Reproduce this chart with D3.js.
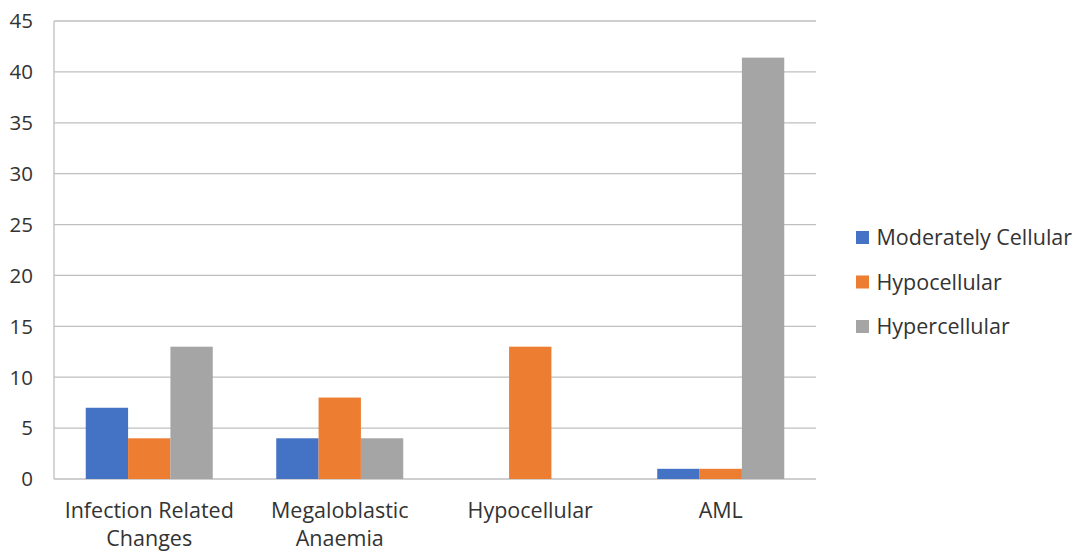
<!DOCTYPE html>
<html><head><meta charset="utf-8">
<script src="https://cdn.jsdelivr.net/npm/d3@7"></script>
<style>body{margin:0;background:#fff;} text{font-family:"Open Sans",sans-serif;}</style>
</head><body>
<svg id="c" width="1080" height="554"></svg>
<script>
const categories = [["Infection Related","Changes"],["Megaloblastic","Anaemia"],["Hypocellular"],["AML"]];
const categoryKeys = ["Infection Related Changes","Megaloblastic Anaemia","Hypocellular","AML"];
const seriesNames = ["Moderately Cellular","Hypocellular","Hypercellular"];
const moderatelyCellular = [7,4,0,1];
const hypocellular = [4,8,13,1];
const hypercellular = [13,4,0,41.4];
const yTicks = [0,5,10,15,20,25,30,35,40,45];
const colors = ["#4472C4","#ED7D31","#A5A5A5"];
const seriesValues = [moderatelyCellular, hypocellular, hypercellular];

(function(){
const svg = d3.select("#c");
const L = 54, R = 816, T = 21, B = 479;
const x = d3.scaleBand().domain(categoryKeys).range([L,R]).paddingInner(0).paddingOuter(0);
const y = d3.scaleLinear().domain([0,45]).range([B,T]);
const barW = x.bandwidth()/4.5;
const xs = d3.scaleBand().domain(seriesNames).range([0,barW*3]);

svg.append("g").selectAll("line").data(yTicks).join("line")
  .attr("x1",L).attr("x2",R).attr("y1",d=>y(d)).attr("y2",d=>y(d))
  .attr("stroke","#BFBFBF").attr("stroke-width",1.3);
svg.append("line").attr("x1",L).attr("x2",L).attr("y1",T).attr("y2",B)
  .attr("stroke","#BFBFBF").attr("stroke-width",1.3);

svg.append("g").selectAll("text").data(yTicks).join("text")
  .attr("x",33).attr("y",d=>y(d)).attr("dy","0.36em").attr("text-anchor","end")
  .attr("font-size",20.5).attr("fill","#333").text(d=>d);

seriesValues.forEach((vals,si)=>{
  svg.append("g").selectAll("rect").data(vals).join("rect")
    .attr("x",(d,i)=>x(categoryKeys[i]) + (x.bandwidth()-barW*3)/2 + xs(seriesNames[si]))
    .attr("width",xs.bandwidth())
    .attr("y",d=>y(d)).attr("height",d=>y(0)-y(d))
    .attr("fill",colors[si]);
});

const cl = svg.append("g").selectAll("text").data(categories).join("text")
  .attr("text-anchor","middle").attr("font-size",21.5).attr("fill","#333");
cl.each(function(lines,i){
  const cx = x(categoryKeys[i]) + x.bandwidth()/2;
  lines.forEach((ln,j)=>{
    d3.select(this).append("tspan").attr("x",cx).attr("y",518+j*27.5).text(ln);
  });
});

const lg = svg.append("g").selectAll("g").data(seriesNames).join("g")
  .attr("transform",(d,i)=>`translate(856,${237.5+i*44.5})`);
lg.append("rect").attr("x",0).attr("y",-6.5).attr("width",13).attr("height",13).attr("fill",(d,i)=>colors[i]);
lg.append("text").attr("x",20.5).attr("y",0).attr("dy","0.36em").attr("font-size",21.5).attr("fill","#333").text(d=>d);
})();
</script>
</body></html>
